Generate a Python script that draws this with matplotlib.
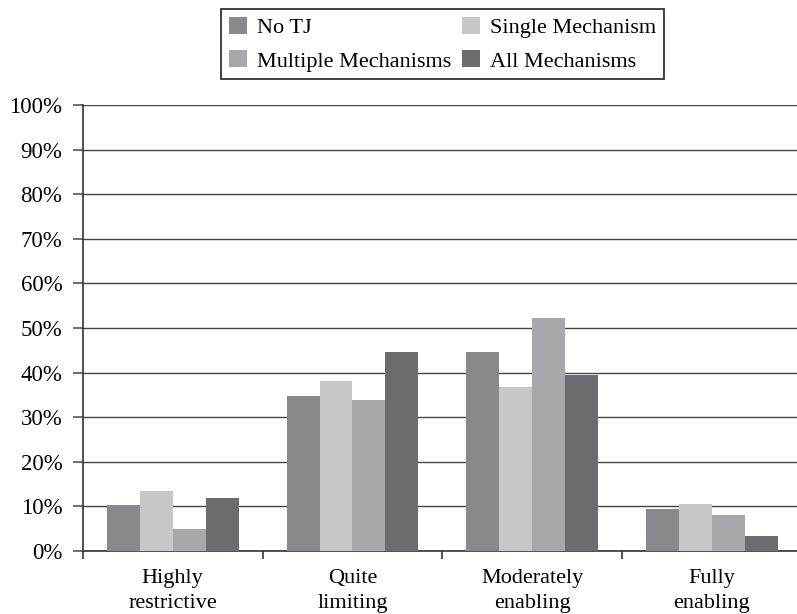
import matplotlib.pyplot as plt
import numpy as np

categories = ["Highly\nrestrictive", "Quite\nlimiting", "Moderately\nenabling", "Fully\nenabling"]
series_names = ["No TJ", "Single Mechanism", "Multiple Mechanisms", "All Mechanisms"]
no_tj = [10.3, 34.8, 44.7, 9.4]
single = [13.5, 38.1, 36.8, 10.5]
multiple = [4.9, 33.9, 52.3, 8.1]
all_mech = [11.9, 44.6, 39.5, 3.4]
colors = ["#88898d", "#c6c7c9", "#a7a8ab", "#6b6c70"]

plt.rcParams["font.family"] = ["Liberation Serif", "DejaVu Serif"]
plt.rcParams["font.size"] = 16

fig = plt.figure(figsize=(7.97, 6.14), dpi=100)
ax = fig.add_axes([0.104, 0.1026, 0.896, 0.7264])

x = np.arange(len(categories))
width = 0.183
bars = []
for i, (vals, name) in enumerate(zip([no_tj, single, multiple, all_mech], series_names)):
    b = ax.bar(x + (i - 1.5) * width, vals, width, color=colors[i], label=name, zorder=3)
    bars.append(b)

ax.set_ylim(0, 100)
ax.set_xlim(-0.5, 3.474)
ax.set_yticks(np.arange(0, 101, 10))
ax.set_yticklabels([f"{v}%" for v in range(0, 101, 10)], fontsize=16.5)
ax.yaxis.grid(True, color="#444444", linewidth=1.0, zorder=0)

# category boundary ticks on x axis, labels centred between
ax.set_xticks(np.arange(-0.5, 3.5, 1.0))
ax.set_xticklabels([])
ax.set_xticks(x, minor=True)
ax.set_xticklabels(categories, minor=True, linespacing=1.4)
ax.tick_params(axis="x", which="minor", length=0, pad=13)
ax.tick_params(axis="x", which="major", length=6, width=1.2, color="#333333", direction="out")
ax.tick_params(axis="y", length=7.2, width=1.2, color="#555555", pad=7.5)

for s in ["top", "right"]:
    ax.spines[s].set_visible(False)
ax.spines["left"].set_color("#333333")
ax.spines["left"].set_linewidth(1.2)
ax.spines["bottom"].set_color("#333333")
ax.spines["bottom"].set_linewidth(1.2)

handles = [bars[0], bars[2], bars[1], bars[3]]
labels = [series_names[0], series_names[2], series_names[1], series_names[3]]
leg = fig.legend(handles, labels, ncol=2, loc="upper center", bbox_to_anchor=(0.555, 1.003),
                 frameon=True, fancybox=False, edgecolor="black", fontsize=16,
                 handlelength=0.8, handleheight=0.8, handletextpad=0.45,
                 columnspacing=0.5, labelspacing=0.55, borderpad=0.35)
leg.get_frame().set_linewidth(1.3)

fig.savefig("out.png", dpi=100)
